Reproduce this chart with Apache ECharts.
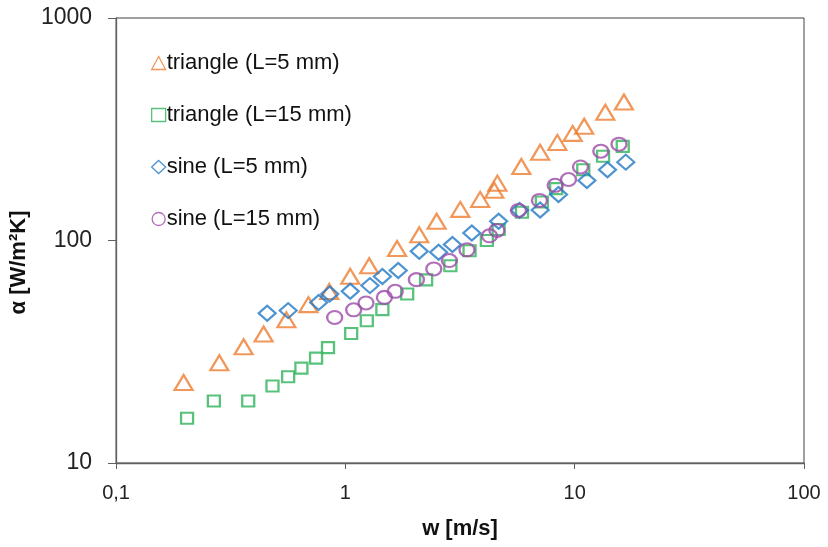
<!DOCTYPE html>
<html>
<head>
<meta charset="utf-8">
<script src="https://cdn.jsdelivr.net/npm/echarts@6/dist/echarts.min.js"></script>
<style>
  html, body { margin: 0; padding: 0; background: #fff; }
  #main { width: 828px; height: 547px; }
</style>
</head>
<body>
<div id="main"></div>
<script>
// w [m/s] and alpha [W/m2K]
const triL5W = [0.197, 0.282, 0.36, 0.44, 0.553, 0.69, 0.85, 1.05, 1.27, 1.68, 2.1, 2.5, 3.17, 3.87, 4.46, 4.6, 5.85, 7.07, 8.4, 9.8, 11, 13.6, 16.4];
const triL5A = [23, 28.2, 33.3, 38, 44, 51.5, 59, 69, 77, 92, 106, 122, 138, 153, 168, 181, 215, 249, 276, 303, 326, 377, 419];

const triL15W = [0.204, 0.267, 0.377, 0.481, 0.563, 0.643, 0.745, 0.84, 1.06, 1.24, 1.45, 1.86, 2.25, 2.87, 3.48, 4.14, 4.66, 5.89, 7.19, 8.3, 10.9, 13.3, 16.2];
const triL15A = [15.9, 19, 19, 22.2, 24.4, 26.7, 29.6, 33, 38.2, 43.6, 48.9, 57.5, 66.5, 77, 90, 100, 112, 134, 149, 171, 208, 239, 265];

const sinL5W = [0.456, 0.563, 0.765, 0.855, 1.05, 1.28, 1.45, 1.7, 2.1, 2.55, 2.93, 3.56, 4.66, 5.75, 7.07, 8.5, 11.3, 13.9, 16.7];
const sinL5A = [47.1, 48.4, 52.7, 57.5, 59.1, 62.7, 68.9, 73.3, 89.5, 88.6, 96, 108, 122, 136.6, 137, 161, 186, 208, 225];

const sinL15W = [0.898, 1.087, 1.23, 1.48, 1.65, 2.04, 2.43, 2.84, 3.39, 4.25, 4.58, 5.69, 7.02, 8.22, 9.4, 10.6, 13.0, 15.6];
const sinL15A = [45.1, 48.8, 52.4, 55.5, 59.1, 66.7, 74.5, 81.3, 90.8, 105, 111, 136.5, 151.4, 177, 188, 214, 252, 271];

const seriesNames = ['triangle (L=5 mm)', 'triangle (L=15 mm)', 'sine (L=5 mm)', 'sine (L=15 mm)'];

const pairs = (xs, ys) => xs.map((x, i) => [x, ys[i]]);

const myChart = echarts.init(document.getElementById('main'));

function scatter(name, data, symbol, size, color) {
    return {
        name: name,
        type: 'scatter',
        data: data,
        symbol: symbol,
        symbolSize: size,
        itemStyle: {
            color: 'rgba(0,0,0,0)',
            borderColor: color,
            borderWidth: 2.2
        },
        emphasis: { disabled: true }
    };
}

const option = {
    animation: false,
    backgroundColor: '#fff',
    grid: {
        left: 116,
        right: 24,
        top: 18,
        bottom: 84,
        show: true,
        borderColor: '#404040',
        borderWidth: 1
    },
    legend: {
        orient: 'vertical',
        left: 146,
        top: 47,
        itemWidth: 14,
        itemHeight: 13,
        itemGap: 30,
        textStyle: {
            fontFamily: 'Liberation Sans',
            fontSize: 22,
            color: '#111',
            padding: [0, 0, 0, -4],
            lineHeight: 22
        },
        data: seriesNames.map(n => ({ name: n, itemStyle: { borderWidth: 1.3 } }))
    },
    xAxis: {
        type: 'log',
        logBase: 10,
        min: 0.1,
        max: 100,
        name: 'w [m/s]',
        nameLocation: 'middle',
        nameGap: 55,
        nameTextStyle: {
            fontFamily: 'Liberation Sans',
            fontSize: 22,
            fontWeight: 'bold',
            color: '#111'
        },
        axisLine: { lineStyle: { color: '#606060', width: 1.3 } },
        axisTick: { show: true, length: 6, lineStyle: { color: '#606060' } },
        minorTick: { show: false },
        splitLine: { show: false },
        axisLabel: {
            margin: 20,
            fontFamily: 'Liberation Sans',
            fontSize: 20,
            color: '#222',
            formatter: v => String(+v.toPrecision(3)).replace('.', ',')
        }
    },
    yAxis: {
        type: 'log',
        logBase: 10,
        min: 10,
        max: 1000,
        name: 'α [W/m²K]',
        nameLocation: 'middle',
        nameGap: 83,
        nameTextStyle: {
            fontFamily: 'Liberation Sans',
            fontSize: 22,
            fontWeight: 'bold',
            color: '#111',
            padding: [0, 44, 0, 0]
        },
        axisLine: { lineStyle: { color: '#606060', width: 1.3 } },
        axisTick: { show: true, length: 8, lineStyle: { color: '#606060' } },
        minorTick: { show: false },
        splitLine: { show: false },
        axisLabel: {
            margin: 24,
            fontFamily: 'Liberation Sans',
            fontSize: 23,
            color: '#222',
            formatter: v => String(Math.round(v))
        }
    },
    series: [
        scatter(seriesNames[0], pairs(triL5W, triL5A), 'triangle', [18, 15], '#ED7D31'),
        scatter(seriesNames[1], pairs(triL15W, triL15A), 'rect', [12, 11], '#2EB35A'),
        scatter(seriesNames[2], pairs(sinL5W, sinL5A), 'diamond', [17, 15], '#2278C5'),
        scatter(seriesNames[3], pairs(sinL15W, sinL15A), 'circle', [15, 13], '#9C4BA8')
    ]
};

myChart.setOption(option);
</script>
</body>
</html>
